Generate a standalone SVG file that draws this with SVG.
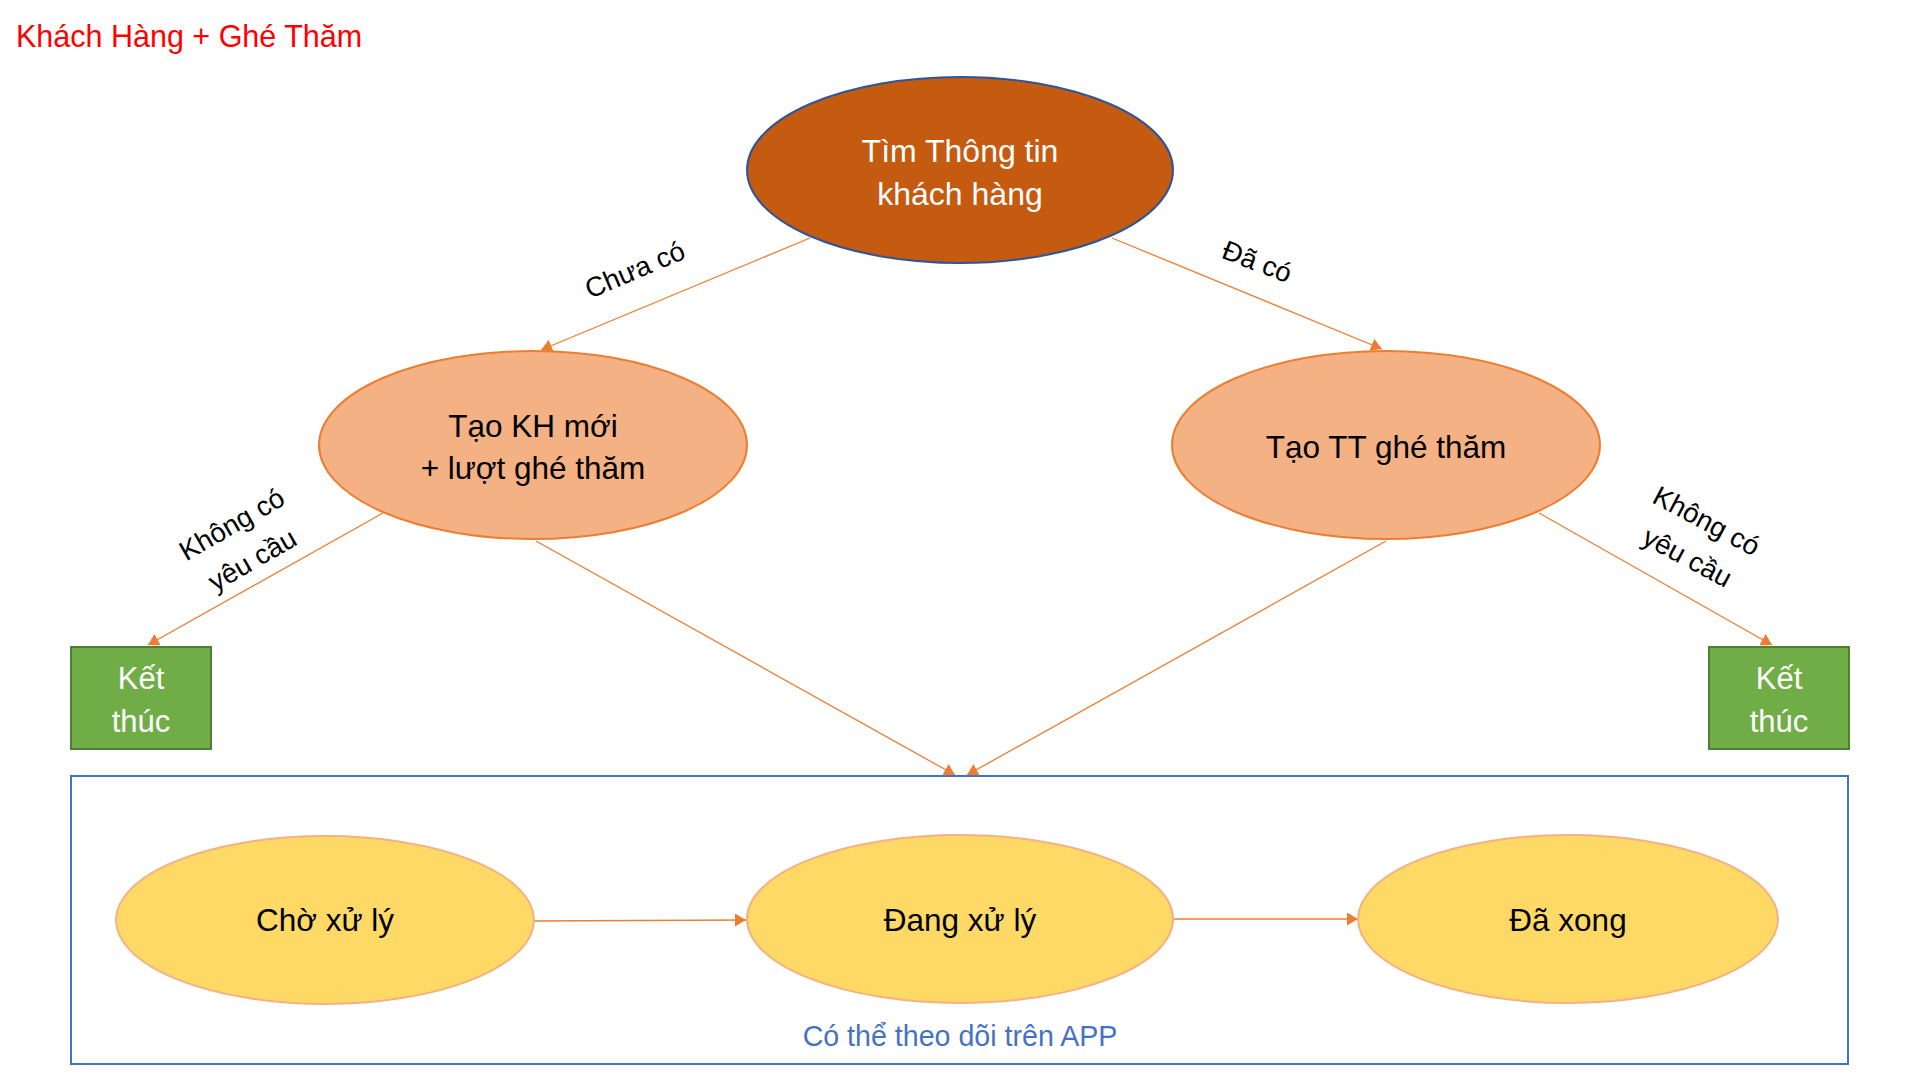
<svg xmlns="http://www.w3.org/2000/svg" width="1920" height="1080" viewBox="0 0 1920 1080">
<style>
text{font-family:"Liberation Sans","Noto Sans",Arial,sans-serif;text-anchor:middle}
.title{fill:#FF0000;font-size:30.5px;text-anchor:start}
.top{fill:#C55A11;stroke:#2F5597;stroke-width:2}
.mid{fill:#F4B183;stroke:#ED7D31;stroke-width:2}
.end{fill:#70AD47;stroke:#507E32;stroke-width:2}
.st{fill:#FFD966;stroke:#F4B183;stroke-width:2}
.box{fill:none;stroke:#4472C4;stroke-width:2}
.w{fill:#FFFFFF;font-size:32px}
.b{fill:#000000;font-size:31.5px}
.lbl{fill:#000000;font-size:27.5px}
.cap{fill:#4472C4;font-size:28.6px}
.con{stroke:#ED7D31;stroke-width:1.3;fill:none;marker-end:url(#ah)}
</style>
<defs>
<marker id="ah" markerUnits="userSpaceOnUse" markerWidth="13" markerHeight="13" refX="11" refY="6.5" orient="auto">
<path d="M0,0 L11,6.5 L0,13 z" fill="#ED7D31"/>
</marker>
</defs>
<rect width="1920" height="1080" fill="#FFFFFF"/>
<text class="title" x="16" y="47">Khách Hàng + Ghé Thăm</text>

<g id="container">
<rect class="box" x="71" y="776" width="1777" height="288"/>
<text class="cap" x="960" y="1046">Có thể theo dõi trên APP</text>
</g>

<g id="connectors">
<line class="con" x1="810" y1="238" x2="541" y2="350"/>
<line class="con" x1="1112" y1="238" x2="1382" y2="349"/>
<line class="con" x1="383" y1="513" x2="148" y2="645"/>
<line class="con" x1="1539" y1="513" x2="1772" y2="645"/>
<line class="con" x1="536" y1="541" x2="955" y2="775"/>
<line class="con" x1="1386" y1="541" x2="967" y2="775"/>
<line class="con" x1="534" y1="921" x2="746" y2="920"/>
<line class="con" x1="1172" y1="919" x2="1358" y2="919"/>
<text class="lbl" transform="translate(635,270) rotate(-23)" x="0" y="9">Chưa có</text>
<text class="lbl" transform="translate(1257,262) rotate(21)" x="0" y="9">Đã có</text>
<g transform="translate(242,542) rotate(-30)">
<text class="lbl" x="0" y="-11">Không có</text>
<text class="lbl" x="0" y="30">yêu cầu</text>
</g>
<g transform="translate(1697,539) rotate(28)">
<text class="lbl" x="0" y="-11">Không có</text>
<text class="lbl" x="0" y="30">yêu cầu</text>
</g>
</g>

<g id="tim-thong-tin">
<ellipse class="top" cx="960" cy="170" rx="213" ry="93"/>
<text class="w" x="960" y="162">Tìm Thông tin</text>
<text class="w" x="960" y="205">khách hàng</text>
</g>

<g id="tao-kh-moi">
<ellipse class="mid" cx="533" cy="445" rx="214" ry="94"/>
<text class="b" x="533" y="437">Tạo KH mới</text>
<text class="b" x="533" y="479">+ lượt ghé thăm</text>
</g>

<g id="tao-tt-ghe-tham">
<ellipse class="mid" cx="1386" cy="445" rx="214" ry="94"/>
<text class="b" x="1386" y="458">Tạo TT ghé thăm</text>
</g>

<g id="ket-thuc-trai">
<rect class="end" x="71" y="647" width="140" height="102"/>
<text class="w" x="141" y="689" style="font-size:31px">Kết</text>
<text class="w" x="141" y="732" style="font-size:31px">thúc</text>
</g>

<g id="ket-thuc-phai">
<rect class="end" x="1709" y="647" width="140" height="102"/>
<text class="w" x="1779" y="689" style="font-size:31px">Kết</text>
<text class="w" x="1779" y="732" style="font-size:31px">thúc</text>
</g>

<g id="cho-xu-ly">
<ellipse class="st" cx="325" cy="920" rx="209" ry="84"/>
<text class="b" x="325" y="931">Chờ xử lý</text>
</g>

<g id="dang-xu-ly">
<ellipse class="st" cx="960" cy="919" rx="213" ry="84"/>
<text class="b" x="960" y="931">Đang xử lý</text>
</g>

<g id="da-xong">
<ellipse class="st" cx="1568" cy="919" rx="210" ry="84"/>
<text class="b" x="1568" y="931">Đã xong</text>
</g>
</svg>
